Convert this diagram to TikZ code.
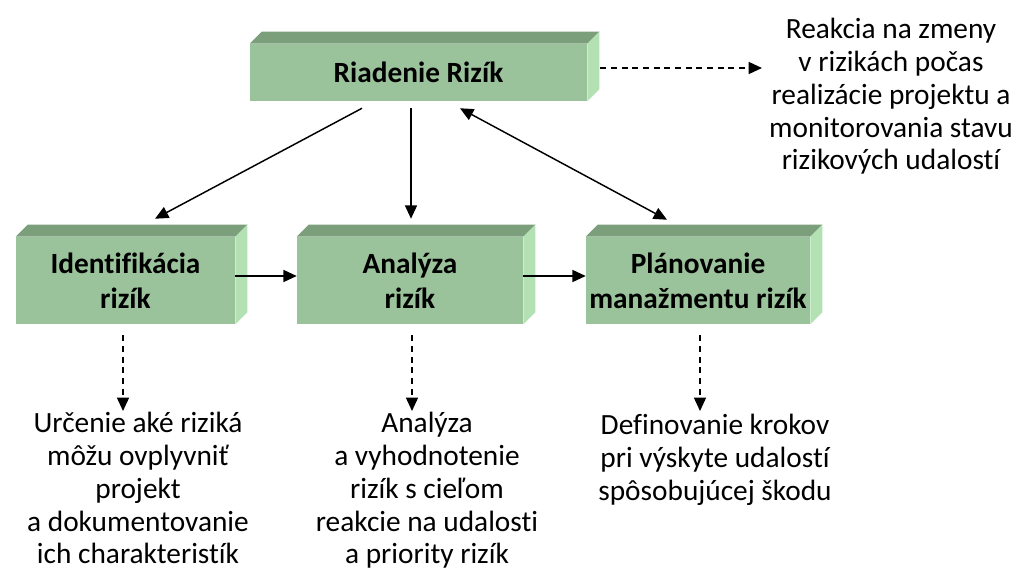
\documentclass[tikz,border=0pt]{standalone}
\usepackage{fontspec}
\setmainfont[Ligatures=NoCommon]{Carlito}
\usetikzlibrary{arrows.meta,calc}
\definecolor{frontc}{RGB}{155,195,155}
\definecolor{topc}{RGB}{123,158,123}
\definecolor{sidec}{RGB}{179,225,179}
\begin{document}
\begin{tikzpicture}[x=0.75pt,y=-0.75pt,
  cube/.style={fill=frontc, inner sep=0pt, align=center,
    font=\fontsize{22pt}{26.5pt}\selectfont\bfseries},
  note/.style={inner sep=0pt, align=center, anchor=north,
    font=\fontsize{22pt}{24.6pt}\selectfont},
  arr/.style={line width=1.1pt, -{Triangle[length=10pt,width=9pt]}},
  darr/.style={line width=1.1pt, {Triangle[length=10pt,width=9pt]}-{Triangle[length=10pt,width=9pt]}},
  dasharr/.style={arr, dash pattern=on 4.5pt off 3.5pt}]
\fill[white] (0,0) rectangle (1017,581);
\useasboundingbox (0,0) rectangle (1017,581);

\node[cube, minimum width=337*0.75pt, minimum height=57*0.75pt] (top) at (418.5,72.5) {Riadenie Rizík};
\node[cube, minimum width=219*0.75pt, minimum height=87*0.75pt] (ident) at (125.5,280.5) {Identifikácia\\rizík};
\node[cube, minimum width=226*0.75pt, minimum height=87*0.75pt] (anal) at (410,280.5) {Analýza\\rizík};
\node[cube, minimum width=224*0.75pt, minimum height=87*0.75pt] (plan) at (698,280.5) {Plánovanie\\manažmentu rizík};

\foreach \n in {top,ident,anal,plan}{
  \fill[topc] (\n.north west) -- ++(12,-12) -- ($(\n.north east)+(12,-12)$) -- (\n.north east) -- cycle;
  \fill[sidec] (\n.north east) -- ++(12,-12) -- ($(\n.south east)+(12,-12)$) -- (\n.south east) -- cycle;
}

\node[note] (rnote) at (891,18) {Reakcia na zmeny\\v rizikách počas\\realizácie projektu a\\monitorovania stavu\\rizikových udalostí};
\node[note] (note1) at (138,412) {Určenie aké riziká\\môžu ovplyvniť\\projekt\\a dokumentovanie\\ich charakteristík};
\node[note] (note2) at (427,412) {Analýza\\a vyhodnotenie\\rizík s cieľom\\reakcie na udalosti\\a priority rizík};
\node[note] (note3) at (715,414) {Definovanie krokov\\pri výskyte udalostí\\spôsobujúcej škodu};

\coordinate (dashend) at (762,68);

\draw[arr] ([shift={(-56.5,7)}]top.south) -- ([shift={(29.5,-18)}]ident.north);
\draw[arr] ([shift={(-7.5,7)}]top.south) -- ([shift={(1,-18)}]anal.north);
\draw[darr] ([shift={(41.5,7)}]top.south) -- ([shift={(-31,-17)}]plan.north);
\draw[arr] ([shift={(0,-4.5)}]ident.east) -- ([shift={(0,-4.5)}]anal.west);
\draw[arr] ([shift={(0,-4.5)}]anal.east) -- ([shift={(0,-4.5)}]plan.west);
\draw[dasharr] ([shift={(13,-4.5)}]top.east) -- (dashend);

\draw[dasharr] ([shift={(-2.5,11)}]ident.south) -- ([shift={(-15,-1)}]note1.north);
\draw[dasharr] ([shift={(2,11)}]anal.south) -- ([shift={(-15,-1)}]note2.north);
\draw[dasharr] ([shift={(2,11)}]plan.south) -- ([shift={(-15,-3)}]note3.north);
\end{tikzpicture}
\end{document}
